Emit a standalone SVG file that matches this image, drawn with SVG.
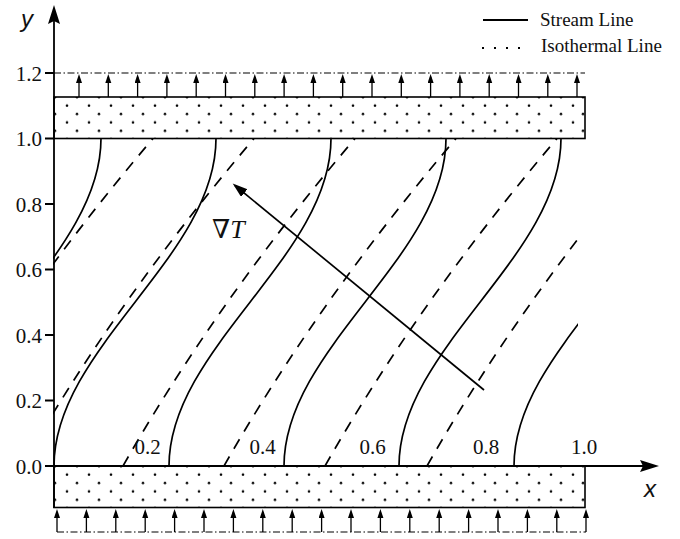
<svg xmlns="http://www.w3.org/2000/svg" width="680" height="539" viewBox="0 0 680 539">
<defs>
<style>
.ln{fill:none;stroke:#000;stroke-width:1.7}
.iso{fill:none;stroke:#000;stroke-width:1.7;stroke-dasharray:11 9}
.ax{fill:none;stroke:#000;stroke-width:1.8}
.dd{fill:none;stroke:#000;stroke-width:1.2;stroke-dasharray:7 2.5 1.5 2.5}
.ar{fill:none;stroke:#000;stroke-width:1.3;marker-end:url(#ah)}
.num{font-family:"Liberation Serif","Times New Roman",serif;font-size:21px;fill:#111}
.leg{font-family:"Liberation Serif","Times New Roman",serif;font-size:19px;fill:#111}
.lab{font-family:"Liberation Sans",Arial,sans-serif;font-style:italic;font-size:24px;fill:#111}
.box{stroke:#000;stroke-width:1.6;fill:url(#dots)}
</style>
<pattern id="dots" patternUnits="userSpaceOnUse" x="61" y="93" width="22" height="16.8">
<circle cx="16" cy="4.2" r="1.3" fill="#000"/>
<circle cx="6" cy="12.6" r="1.3" fill="#000"/>
</pattern>
<marker id="ah" markerUnits="userSpaceOnUse" markerWidth="10" markerHeight="8" refX="6" refY="3" orient="auto">
<path d="M0,0 L9,3 L0,6 z" fill="#000"/>
</marker>
<marker id="big" markerUnits="userSpaceOnUse" markerWidth="17" markerHeight="12" refX="12" refY="5" orient="auto">
<path d="M0,0 L15,5 L0,10 z" fill="#000"/>
</marker>
<clipPath id="field"><rect x="53" y="138.5" width="525" height="327.5"/></clipPath>
</defs>
<rect width="680" height="539" fill="#fff"/>

<g id="top-boundary">
<path class="dd" d="M54,73 H585"/>
<rect class="box" x="54" y="97" width="531" height="41.5"/>
<g class="arrows">
<path class="ar" d="M79,97 V77"/><path class="ar" d="M108.3,97 V77"/><path class="ar" d="M137.6,97 V77"/><path class="ar" d="M166.9,97 V77"/><path class="ar" d="M196.2,97 V77"/><path class="ar" d="M225.5,97 V77"/><path class="ar" d="M254.8,97 V77"/><path class="ar" d="M284.1,97 V77"/><path class="ar" d="M313.4,97 V77"/><path class="ar" d="M342.7,97 V77"/><path class="ar" d="M372,97 V77"/><path class="ar" d="M401.3,97 V77"/><path class="ar" d="M430.6,97 V77"/><path class="ar" d="M459.9,97 V77"/><path class="ar" d="M489.2,97 V77"/><path class="ar" d="M518.5,97 V77"/><path class="ar" d="M547.8,97 V77"/><path class="ar" d="M577,97 V77"/>
</g>
</g>

<g id="bottom-boundary">
<rect class="box" x="54" y="97" width="531" height="41.5" transform="translate(0,369)"/>
<path class="dd" d="M57,532 H586"/>
<g class="arrows">
<path class="ar" d="M57,532 V512"/><path class="ar" d="M86.4,532 V512"/><path class="ar" d="M115.8,532 V512"/><path class="ar" d="M145.2,532 V512"/><path class="ar" d="M174.6,532 V512"/><path class="ar" d="M204,532 V512"/><path class="ar" d="M233.4,532 V512"/><path class="ar" d="M262.8,532 V512"/><path class="ar" d="M292.2,532 V512"/><path class="ar" d="M321.6,532 V512"/><path class="ar" d="M351,532 V512"/><path class="ar" d="M380.4,532 V512"/><path class="ar" d="M409.8,532 V512"/><path class="ar" d="M439.2,532 V512"/><path class="ar" d="M468.6,532 V512"/><path class="ar" d="M498,532 V512"/><path class="ar" d="M527.4,532 V512"/><path class="ar" d="M556.8,532 V512"/><path class="ar" d="M586,532 V512"/>
</g>
</g>

<g id="isotherm-lines" clip-path="url(#field)">
<path class="iso" d="M-79,466 Q13.8,302.25 153,138.5"/>
<path class="iso" d="M22,466 Q114.8,302.25 254,138.5"/>
<path class="iso" d="M123,466 Q215.8,302.25 355,138.5"/>
<path class="iso" d="M224,466 Q316.8,302.25 456,138.5"/>
<path class="iso" d="M325,466 Q417.8,302.25 557,138.5"/>
<path class="iso" d="M427,466 Q519.8,302.25 659,138.5"/>
</g>

<g id="stream-lines" clip-path="url(#field)">
<path class="ln" d="M-61,466 C-61,348 101,256.5 101,138.5"/>
<path class="ln" d="M54,466 C54,348 216,256.5 216,138.5"/>
<path class="ln" d="M169,466 C169,348 331,256.5 331,138.5"/>
<path class="ln" d="M284,466 C284,348 446,256.5 446,138.5"/>
<path class="ln" d="M399,466 C399,348 561,256.5 561,138.5"/>
<path class="ln" d="M514,466 C514,348 676,256.5 676,138.5"/>
</g>

<g id="axes">
<path class="ax" d="M54,508 V20"/>
<path d="M54,5 L60,24 L54,21 L48,24 z" fill="#000"/>
<path class="ax" d="M54,466 H646"/>
<path d="M659,466 L640,460 L643,466 L640,472 z" fill="#000"/>
<path class="ax" d="M45,73 H54 M45,138.5 H54 M45,204 H54 M45,269.5 H54 M45,335 H54 M45,400.5 H54 M45,466 H54"/>
<text class="lab" x="21" y="27">y</text>
<text class="lab" x="644" y="497">x</text>
</g>

<g id="y-tick-labels" class="num" text-anchor="end">
<text x="42" y="80.5">1.2</text>
<text x="42" y="146">1.0</text>
<text x="42" y="211.5">0.8</text>
<text x="42" y="277">0.6</text>
<text x="42" y="342.5">0.4</text>
<text x="42" y="408">0.2</text>
<text x="42" y="473.5">0.0</text>
</g>

<g id="stream-labels" class="num" text-anchor="middle">
<text x="147.5" y="453.5">0.2</text>
<text x="262.5" y="453.5">0.4</text>
<text x="372.5" y="453.5">0.6</text>
<text x="486" y="453.5">0.8</text>
<text x="584" y="453.5">1.0</text>
</g>

<g id="gradient-arrow">
<path d="M484,390 L235,185.5" fill="none" stroke="#000" stroke-width="1.7" marker-end="url(#big)"/>
<text x="212" y="238" font-family="'Liberation Serif','DejaVu Serif',serif" font-size="26" fill="#111">∇<tspan font-style="italic">T</tspan></text>
</g>

<g id="legend">
<path d="M483,20 H528" stroke="#000" stroke-width="1.8"/>
<text class="leg" x="540" y="25.5">Stream Line</text>
<path d="M482,48 H522" stroke="#000" stroke-width="2" stroke-dasharray="2 10"/>
<text class="leg" x="541" y="52">Isothermal Line</text>
</g>
</svg>
